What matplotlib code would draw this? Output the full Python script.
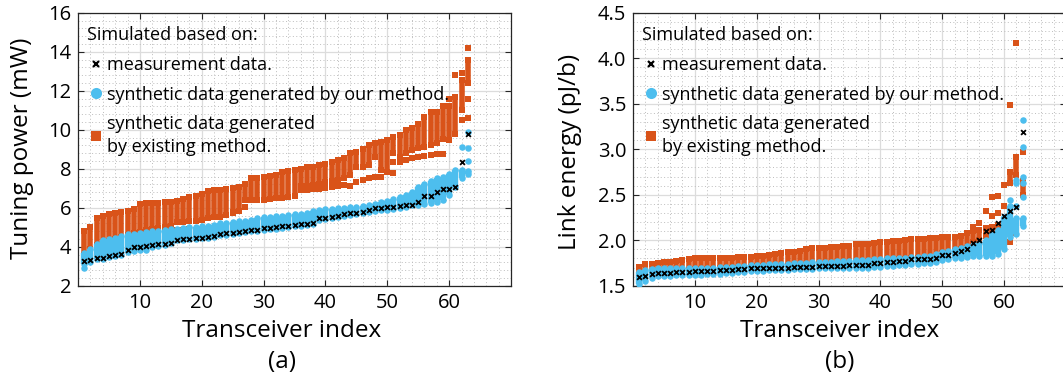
import matplotlib
matplotlib.use("Agg")
import matplotlib.pyplot as plt
import numpy as np
from matplotlib.lines import Line2D
from matplotlib.ticker import MultipleLocator, FormatStrFormatter

plt.rcParams['font.family'] = ['Open Sans', 'DejaVu Sans']

idx = np.arange(1, 64)

# ---- (a) tuning power, mW ----
meas_a = [3.28, 3.3, 3.42, 3.42, 3.5, 3.56, 3.64, 3.84, 3.98, 4.0,
          4.02, 4.08, 4.12, 4.16, 4.2, 4.36, 4.38, 4.42, 4.44, 4.47,
          4.5, 4.55, 4.65, 4.68, 4.7, 4.75, 4.8, 4.85, 4.88, 4.95,
          4.98, 5.0, 5.05, 5.08, 5.12, 5.15, 5.18, 5.22, 5.46, 5.48,
          5.55, 5.6, 5.66, 5.72, 5.74, 5.8, 5.86, 5.98, 6.0, 6.02,
          6.05, 6.1, 6.12, 6.15, 6.28, 6.6, 6.6, 6.8, 6.94, 6.96,
          7.06, 8.36, 9.8]
ours_a_lo = [3.13, 3.2, 3.38, 3.38, 3.47, 3.5, 3.56, 3.73, 3.8, 3.82,
             3.85, 3.98, 4.02, 4.08, 4.19, 4.32, 4.35, 4.38, 4.4, 4.45,
             4.47, 4.5, 4.6, 4.62, 4.65, 4.7, 4.75, 4.8, 4.83, 4.88,
             4.9, 4.93, 4.98, 5.0, 5.05, 5.08, 5.12, 5.18, 5.35, 5.42,
             5.48, 5.52, 5.58, 5.64, 5.68, 5.72, 5.8, 5.85, 5.88, 5.9,
             5.95, 6.0, 6.05, 6.12, 6.15, 6.2, 6.22, 6.3, 6.4, 6.65,
             7.08, 7.5, 7.75]
ours_a_hi = [3.68, 3.9, 4.15, 4.33, 4.4, 4.45, 4.53, 4.63, 4.67, 4.7,
             4.75, 4.8, 4.83, 4.86, 4.89, 4.92, 4.96, 5.0, 5.0, 5.04,
             5.08, 5.12, 5.2, 5.24, 5.28, 5.3, 5.33, 5.38, 5.45, 5.5,
             5.52, 5.56, 5.6, 5.63, 5.68, 5.7, 5.75, 5.82, 5.9, 5.92,
             5.95, 5.98, 6.0, 6.03, 6.06, 6.1, 6.15, 6.2, 6.28, 6.35,
             6.45, 6.55, 6.65, 6.8, 7.08, 7.2, 7.35, 7.5, 7.6, 7.75,
             7.93, 7.93, 7.9]
ours_a_x = [1, 62, 63, 63, 63]
ours_a_y = [2.92, 9.12, 8.42, 9.04, 9.9]

exist_a_lo = [3.6, 3.9, 4.1, 4.2, 4.3, 4.4, 4.5, 4.6, 4.7, 4.75,
              4.85, 4.9, 4.95, 5.0, 5.05, 5.25, 5.25, 5.3, 5.3, 5.35,
              5.45, 5.5, 5.55, 5.65, 5.75, 5.85, 6.4, 6.4, 6.4, 6.4,
              6.45, 6.5, 6.5, 6.55, 6.6, 7.1, 7.1, 7.15, 7.2, 7.3,
              7.35, 7.4, 7.5, 7.7, 8.1, 8.1, 8.2, 8.6, 7.93, 7.85,
              8.8, 8.6, 8.8, 8.95, 9.04, 9.13, 9.2, 9.3, 9.55, 9.47,
              9.8, 11.0, 12.4]
exist_a_hi = [4.8, 5.0, 5.45, 5.6, 5.7, 5.75, 5.8, 5.85, 5.95, 6.2,
              6.25, 6.25, 6.25, 6.3, 6.3, 6.35, 6.45, 6.55, 6.6, 6.7,
              6.85, 6.9, 6.9, 6.95, 7.0, 7.05, 7.2, 7.5, 7.55, 7.6,
              7.65, 7.7, 7.85, 7.9, 7.95, 8.0, 8.1, 8.1, 8.2, 8.25,
              8.35, 8.45, 8.55, 8.8, 8.87, 9.0, 9.2, 9.3, 9.38, 9.47,
              9.64, 9.72, 9.98, 10.07, 10.3, 10.67, 10.92, 10.92, 11.2, 11.2,
              11.7, 12.55, 13.6]
exist_a_x = [16, 17, 18, 25, 27, 36, 37, 38, 39, 40, 41, 42, 43, 44,
             45, 46, 47, 48, 49, 51, 51, 52, 53, 54, 55, 56, 57, 58, 59,
             60, 61, 62, 62, 63, 63, 63]
exist_a_y = [4.85, 4.85, 4.9, 5.8, 6.05, 6.9, 6.9, 6.95, 6.95, 7.0, 7.05, 7.1, 7.15, 7.1,
             7.33, 7.42, 7.5, 7.6, 7.6, 8.36, 7.76, 8.36, 8.44, 8.53, 8.58, 8.65, 8.7, 8.75, 8.75,
             11.6, 12.8, 12.9, 10.5, 14.2, 11.6, 10.6]

# ---- (b) link energy, pJ/b ----
meas_b = [1.6, 1.61, 1.63, 1.64, 1.64, 1.64, 1.65, 1.65, 1.65, 1.66,
          1.66, 1.66, 1.66, 1.67, 1.67, 1.67, 1.68, 1.68, 1.69, 1.7,
          1.7, 1.7, 1.7, 1.7, 1.7, 1.71, 1.71, 1.71, 1.71, 1.72,
          1.72, 1.72, 1.72, 1.72, 1.73, 1.73, 1.73, 1.73, 1.75, 1.75,
          1.76, 1.76, 1.77, 1.77, 1.79, 1.79, 1.79, 1.79, 1.8, 1.84,
          1.84, 1.86, 1.88, 1.9, 1.97, 2.0, 2.1, 2.11, 2.19, 2.27,
          2.32, 2.36, 3.19]
ours_b_lo = [1.52, 1.55, 1.59, 1.61, 1.61, 1.61, 1.62, 1.62, 1.62, 1.62,
             1.62, 1.63, 1.63, 1.63, 1.64, 1.64, 1.65, 1.65, 1.66, 1.66,
             1.66, 1.67, 1.67, 1.67, 1.67, 1.68, 1.68, 1.68, 1.68, 1.69,
             1.69, 1.69, 1.69, 1.69, 1.7, 1.7, 1.7, 1.7, 1.71, 1.71,
             1.72, 1.72, 1.73, 1.73, 1.74, 1.74, 1.75, 1.75, 1.76, 1.78,
             1.79, 1.8, 1.81, 1.82, 1.83, 1.83, 1.83, 1.83, 1.85, 1.9,
             2.03, 2.07, 2.16]
ours_b_hi = [1.65, 1.67, 1.68, 1.69, 1.69, 1.69, 1.69, 1.69, 1.7, 1.7,
             1.7, 1.7, 1.7, 1.71, 1.71, 1.71, 1.72, 1.72, 1.73, 1.73,
             1.73, 1.74, 1.74, 1.74, 1.74, 1.75, 1.75, 1.75, 1.76, 1.76,
             1.76, 1.76, 1.77, 1.77, 1.77, 1.78, 1.78, 1.78, 1.79, 1.79,
             1.8, 1.8, 1.81, 1.81, 1.82, 1.82, 1.83, 1.83, 1.85, 1.87,
             1.88, 1.9, 1.92, 1.94, 1.95, 1.97, 2.0, 2.07, 2.11, 2.25,
             2.38, 2.24, 2.24]
ours_b_x = [61, 62, 62, 62, 63, 63, 63, 63, 63]
ours_b_y = [2.44, 2.38, 2.63, 2.66, 2.47, 2.63, 2.7, 3.02, 3.32]

exist_b_lo = [1.62, 1.63, 1.65, 1.66, 1.66, 1.66, 1.67, 1.67, 1.67, 1.68,
              1.68, 1.68, 1.68, 1.69, 1.69, 1.69, 1.7, 1.7, 1.71, 1.72,
              1.72, 1.72, 1.72, 1.72, 1.72, 1.73, 1.73, 1.73, 1.73, 1.74,
              1.74, 1.74, 1.74, 1.74, 1.75, 1.75, 1.75, 1.75, 1.77, 1.77,
              1.78, 1.78, 1.79, 1.79, 1.81, 1.81, 1.81, 1.81, 1.82, 1.86,
              1.86, 1.88, 1.9, 1.92, 1.98, 2.0, 2.05, 2.08, 2.12, 2.18,
              2.63, 2.72, 2.5]
exist_b_hi = [1.71, 1.74, 1.74, 1.75, 1.76, 1.76, 1.77, 1.78, 1.79, 1.8,
              1.8, 1.8, 1.8, 1.8, 1.81, 1.81, 1.82, 1.82, 1.82, 1.83,
              1.83, 1.84, 1.85, 1.86, 1.87, 1.87, 1.88, 1.9, 1.91, 1.92,
              1.92, 1.93, 1.93, 1.94, 1.94, 1.96, 1.96, 1.96, 1.97, 1.98,
              1.98, 1.99, 1.99, 2.0, 2.01, 2.01, 2.01, 2.02, 2.02, 2.03,
              2.03, 2.04, 2.05, 2.08, 2.1, 2.11, 2.13, 2.15, 2.17, 2.22,
              2.75, 2.92, 2.65]
exist_b_x = [55, 56, 57, 58, 58, 59, 59, 60, 60, 61, 61, 62, 62, 63]
exist_b_y = [2.15, 2.19, 2.32, 2.48, 2.27, 2.49, 2.3, 2.61, 2.38, 3.49, 1.98, 4.17, 2.08, 2.97]

orange = '#D95319'
blue = '#4DBEEE'

fig = plt.figure(figsize=(10.63, 3.81), dpi=100)
ax1 = fig.add_axes([0.0734, 0.2501, 0.4073, 0.7163])
ax2 = fig.add_axes([0.5955, 0.2501, 0.4073, 0.7163])


def draw(ax, meas, o_lo, o_hi, o_x, o_y, e_lo, e_hi, e_x, e_y):
    ax.vlines(idx, e_lo, e_hi, colors=orange, lw=4.0, zorder=3)
    ax.scatter(np.r_[idx, idx, e_x], np.r_[e_lo, e_hi, e_y], marker='s', s=17,
               color=orange, linewidths=0, zorder=3)
    ax.vlines(idx, o_lo, o_hi, colors=blue, lw=4.6, zorder=4)
    ax.scatter(np.r_[idx, idx, o_x], np.r_[o_lo, o_hi, o_y], marker='o', s=22,
               color=blue, linewidths=0, zorder=4)
    ax.scatter(idx, meas, marker='x', s=12, color='black', linewidths=1.3, zorder=5)

    ax.set_xlim(0, 70)
    ax.xaxis.set_minor_locator(MultipleLocator(2))
    ax.set_xticks([10, 20, 30, 40, 50, 60])
    ax.grid(which='major', color='#dcdcdc', lw=0.9, ls='-', zorder=0)
    ax.grid(which='minor', color='#bdbdbd', lw=0.7, ls=(0, (1, 2.5)), zorder=0)
    ax.set_axisbelow(True)
    ax.tick_params(which='both', direction='in', top=True, right=True,
                   labelsize=14.5, color='#262626', pad=5)
    ax.tick_params(which='major', length=4)
    ax.tick_params(which='minor', length=0)
    for sp in ax.spines.values():
        sp.set_color('#262626')
        sp.set_linewidth(0.9)

    ax.text(0.0208, 0.9004, 'Simulated based on:', transform=ax.transAxes,
            fontsize=13, va='baseline', ha='left', zorder=6)
    handles = [
        Line2D([], [], ls='none', marker='x', color='black', ms=5, mew=1.6),
        Line2D([], [], ls='none', marker='o', color=blue, ms=8, mew=0),
        Line2D([], [], ls='none', marker='s', color=orange, ms=7, mew=0),
    ]
    labels = ['measurement data.', 'synthetic data generated by our method.',
              'synthetic data generated\nby existing method.']
    leg = ax.legend(handles, labels, loc='upper left', bbox_to_anchor=(0.0208, 0.84),
                    frameon=False, fontsize=13, handlelength=1.0,
                    handletextpad=0.1, labelspacing=0.62, borderpad=0,
                    borderaxespad=0)
    leg.get_texts()[2].set_linespacing(1.4)
    leg.set_zorder(6)


draw(ax1, meas_a, ours_a_lo, ours_a_hi, ours_a_x, ours_a_y,
     exist_a_lo, exist_a_hi, exist_a_x, exist_a_y)
ax1.set_ylim(2, 16)
ax1.yaxis.set_major_locator(MultipleLocator(2))
ax1.yaxis.set_minor_locator(MultipleLocator(0.4))

draw(ax2, meas_b, ours_b_lo, ours_b_hi, ours_b_x, ours_b_y,
     exist_b_lo, exist_b_hi, exist_b_x, exist_b_y)
ax2.set_ylim(1.5, 4.5)
ax2.yaxis.set_major_locator(MultipleLocator(0.5))
ax2.yaxis.set_minor_locator(MultipleLocator(0.1))
ax2.yaxis.set_major_formatter(FormatStrFormatter('%.1f'))

fig.text(0.2653, 0.1155, 'Transceiver index', ha='center', va='baseline', fontsize=17.5)
fig.text(0.2653, 0.051, '(a)', ha='center', va='center', fontsize=17.5)
fig.text(0.790, 0.1155, 'Transceiver index', ha='center', va='baseline', fontsize=17.5)
fig.text(0.790, 0.051, '(b)', ha='center', va='center', fontsize=17.5)
fig.text(0.021, 0.6115, 'Tuning power (mW)', rotation=90, ha='center', va='center', fontsize=17.5)
fig.text(0.536, 0.60, 'Link energy (pJ/b)', rotation=90, ha='center', va='center', fontsize=17.5)

fig.savefig('out.png', dpi=100)
